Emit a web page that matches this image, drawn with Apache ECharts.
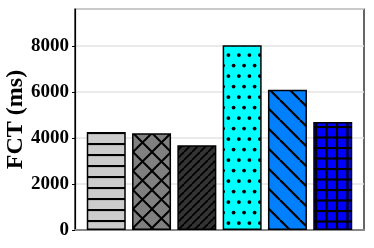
<!DOCTYPE html>
<html>
<head>
<meta charset="utf-8">
<script src="https://cdn.jsdelivr.net/npm/echarts@6/dist/echarts.min.js"></script>
<style>
html,body{margin:0;padding:0;background:#fff;}
#chart{width:374px;height:248px;}
</style>
</head>
<body>
<div id="chart"></div>
<script>
// ---- data ----
var categories = ['A', 'B', 'C', 'D', 'E', 'F'];
var fctValues = [4260, 4200, 3680, 8020, 6090, 4690];
var yTicks = [0, 2000, 4000, 6000, 8000];
var yAxisName = 'FCT (ms)';

// ---- pattern helpers (styles only) ----
function tile(w, h, bg, draw) {
  var c = document.createElement('canvas');
  c.width = w; c.height = h;
  var g = c.getContext('2d');
  g.fillStyle = bg; g.fillRect(0, 0, w, h);
  g.strokeStyle = '#000'; g.fillStyle = '#000';
  draw(g, w, h);
  return { image: c, repeat: 'repeat' };
}
function line(g, x1, y1, x2, y2, lw) {
  g.lineWidth = lw; g.beginPath(); g.moveTo(x1, y1); g.lineTo(x2, y2); g.stroke();
}
var patterns = [
  tile(11, 11, '#cccccc', function (g, w, h) { line(g, 0, 1, w, 1, 2.2); }),
  tile(19, 19, '#808080', function (g, w, h) {
    for (var k = -1; k <= 1; k++) {
      line(g, k * w, 0, k * w + w, h, 2);
      line(g, k * w, h, k * w + w, 0, 2);
    }
  }),
  tile(8, 8, '#333333', function (g, w, h) {
    for (var k = -1; k <= 1; k++) line(g, k * w, h, k * w + w, 0, 1.8);
  }),
  tile(21, 21, '#00ffff', function (g, w, h) {
    var pts = [[2.6, 2.6], [13.1, 2.6], [7.9, 13.1], [18.4, 13.1]];
    pts.forEach(function (p) {
      for (var dx = -1; dx <= 1; dx++) for (var dy = -1; dy <= 1; dy++) {
        g.beginPath(); g.arc(p[0] + dx * w, p[1] + dy * h, 1.9, 0, Math.PI * 2); g.fill();
      }
    });
  }),
  tile(20, 20, '#0080ff', function (g, w, h) {
    for (var k = -1; k <= 1; k++) line(g, k * w, 0, k * w + w, h, 2.2);
  }),
  tile(21, 21, '#0000ff', function (g, w, h) {
    line(g, 1, 0, 1, h, 2.2); line(g, 11.5, 0, 11.5, h, 2.2);
    line(g, 0, 1, w, 1, 2.2); line(g, 0, 11.5, w, 11.5, 2.2);
  })
];

var seriesData = fctValues.map(function (v, i) {
  return { value: [i, v], itemStyle: { color: patterns[i] } };
});

var chart = echarts.init(document.getElementById('chart'), null, { renderer: 'canvas' });
chart.setOption({
  animation: false,
  backgroundColor: '#fff',
  grid: { left: 75, right: 10, top: 9, bottom: 18, show: true, borderColor: '#000', borderWidth: 1.2, backgroundColor: 'transparent', containLabel: false, outerBoundsMode: 'none' },
  xAxis: {
    type: 'value', min: -0.69, max: categories.length - 1 + 0.69,
    axisLine: { show: true, onZero: false, lineStyle: { color: '#888', width: 2 } },
    axisTick: { show: false }, axisLabel: { show: false }, splitLine: { show: false }
  },
  yAxis: {
    type: 'value', min: yTicks[0], max: 9600, interval: yTicks[1] - yTicks[0],
    name: yAxisName, nameLocation: 'middle', nameGap: 47, nameMoveOverlap: false,
    nameTextStyle: { fontFamily: 'Liberation Serif', fontWeight: 'bold', fontSize: 24, color: '#000' },
    axisLine: { show: true, onZero: false, lineStyle: { color: '#000', width: 1.2 } },
    axisTick: { show: true, length: 3, lineStyle: { color: '#000' } },
    axisLabel: {
      showMaxLabel: false, margin: 6, color: '#000', fontFamily: 'Liberation Serif', fontWeight: 'bold', fontSize: 19,
      formatter: function (v) { return yTicks.indexOf(v) >= 0 ? String(v) : ''; }
    },
    splitLine: { show: true, lineStyle: { color: '#e3e3e3', width: 1.5 } }
  },
  series: [{
    type: 'bar', data: seriesData, barWidth: 39,
    itemStyle: { borderColor: '#000', borderWidth: 1.5 }
  }]
});
</script>
</body>
</html>
